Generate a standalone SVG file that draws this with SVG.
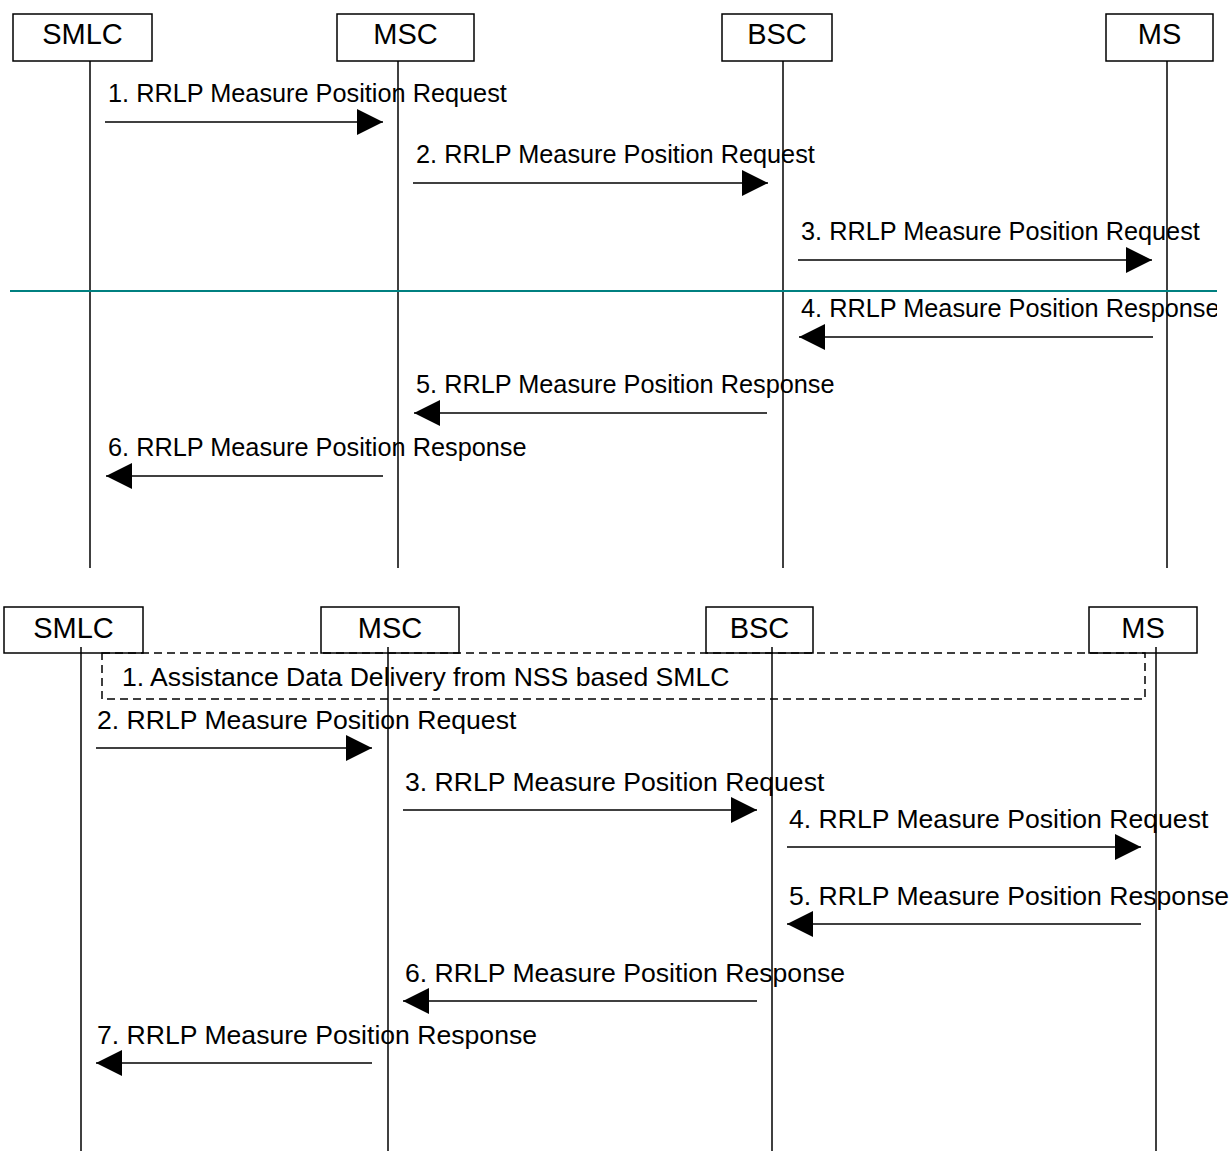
<svg xmlns="http://www.w3.org/2000/svg" width="1229" height="1151" viewBox="0 0 1229 1151">
<style>
.box{fill:#fff;stroke:#000;stroke-width:1.5}
.life{stroke:#000;stroke-width:1.5}
.msg{stroke:#000;stroke-width:1.7;fill:none;marker-end:url(#ah)}
.hd{font-family:"Liberation Sans",Arial,sans-serif;font-size:29px;fill:#000;text-anchor:middle}
.lt{font-family:"Liberation Sans",Arial,sans-serif;font-size:25.3px;fill:#000}
.lb{font-family:"Liberation Sans",Arial,sans-serif;font-size:26.6px;fill:#000}
.dash{fill:none;stroke:#000;stroke-width:1.5;stroke-dasharray:8 5}
</style>
<defs>
<marker id="ah" markerUnits="userSpaceOnUse" markerWidth="26" markerHeight="26" viewBox="0 0 26 26" refX="26" refY="13" orient="auto">
<path d="M0,0 L26,13 L0,26 z" fill="#000"/>
</marker>
<clipPath id="topclip"><rect x="0" y="0" width="1217" height="580"/></clipPath>
</defs>
<rect width="1229" height="1151" fill="#fff"/>
<g id="top" clip-path="url(#topclip)">
<g id="t-smlc"><rect class="box" x="13" y="14" width="139" height="47"/><text class="hd" x="82.5" y="44">SMLC</text><line class="life" x1="90" y1="61" x2="90" y2="568"/></g>
<g id="t-msc"><rect class="box" x="337" y="14" width="137" height="47"/><text class="hd" x="405.5" y="44">MSC</text><line class="life" x1="398" y1="61" x2="398" y2="568"/></g>
<g id="t-bsc"><rect class="box" x="722" y="14" width="110" height="47"/><text class="hd" x="777" y="44">BSC</text><line class="life" x1="783" y1="61" x2="783" y2="568"/></g>
<g id="t-ms"><rect class="box" x="1106" y="14" width="107" height="47"/><text class="hd" x="1159.5" y="44">MS</text><line class="life" x1="1167" y1="61" x2="1167" y2="568"/></g>
<line id="t-sep" x1="10" y1="291" x2="1229" y2="291" stroke="#008080" stroke-width="2"/>
<g id="t-connectors">
<line class="msg" x1="105" y1="122" x2="383" y2="122"/>
<text class="lt" x="108" y="102">1. RRLP Measure Position Request</text>
<line class="msg" x1="413" y1="183" x2="768" y2="183"/>
<text class="lt" x="416" y="163">2. RRLP Measure Position Request</text>
<line class="msg" x1="798" y1="260" x2="1152" y2="260"/>
<text class="lt" x="801" y="240">3. RRLP Measure Position Request</text>
<line class="msg" x1="1153" y1="337" x2="799" y2="337"/>
<text class="lt" x="801" y="317">4. RRLP Measure Position Response</text>
<line class="msg" x1="767" y1="413" x2="414" y2="413"/>
<text class="lt" x="416" y="393">5. RRLP Measure Position Response</text>
<line class="msg" x1="383" y1="476" x2="106" y2="476"/>
<text class="lt" x="108" y="456">6. RRLP Measure Position Response</text>
</g>
</g>
<g id="bottom">
<g id="b-smlc"><rect class="box" x="4" y="607" width="139" height="46"/><text class="hd" x="73.5" y="638">SMLC</text><line class="life" x1="81" y1="647" x2="81" y2="1151"/></g>
<g id="b-msc"><rect class="box" x="321" y="607" width="138" height="46"/><text class="hd" x="390" y="638">MSC</text><line class="life" x1="388" y1="647" x2="388" y2="1151"/></g>
<g id="b-bsc"><rect class="box" x="706" y="607" width="107" height="46"/><text class="hd" x="759.5" y="638">BSC</text><line class="life" x1="772" y1="647" x2="772" y2="1151"/></g>
<g id="b-ms"><rect class="box" x="1089" y="607" width="108" height="46"/><text class="hd" x="1143" y="638">MS</text><line class="life" x1="1156" y1="647" x2="1156" y2="1151"/></g>
<g id="b-assist"><rect class="dash" x="102" y="653" width="1043" height="46"/><text class="lb" x="122" y="686">1. Assistance Data Delivery from NSS based SMLC</text></g>
<g id="b-connectors">
<line class="msg" x1="96" y1="748" x2="372" y2="748"/>
<text class="lb" x="97" y="729">2. RRLP Measure Position Request</text>
<line class="msg" x1="403" y1="810" x2="757" y2="810"/>
<text class="lb" x="405" y="791">3. RRLP Measure Position Request</text>
<line class="msg" x1="787" y1="847" x2="1141" y2="847"/>
<text class="lb" x="789" y="828">4. RRLP Measure Position Request</text>
<line class="msg" x1="1141" y1="924" x2="787" y2="924"/>
<text class="lb" x="789" y="905">5. RRLP Measure Position Response</text>
<line class="msg" x1="757" y1="1001" x2="403" y2="1001"/>
<text class="lb" x="405" y="982">6. RRLP Measure Position Response</text>
<line class="msg" x1="372" y1="1063" x2="96" y2="1063"/>
<text class="lb" x="97" y="1044">7. RRLP Measure Position Response</text>
</g>
</g>
</svg>
